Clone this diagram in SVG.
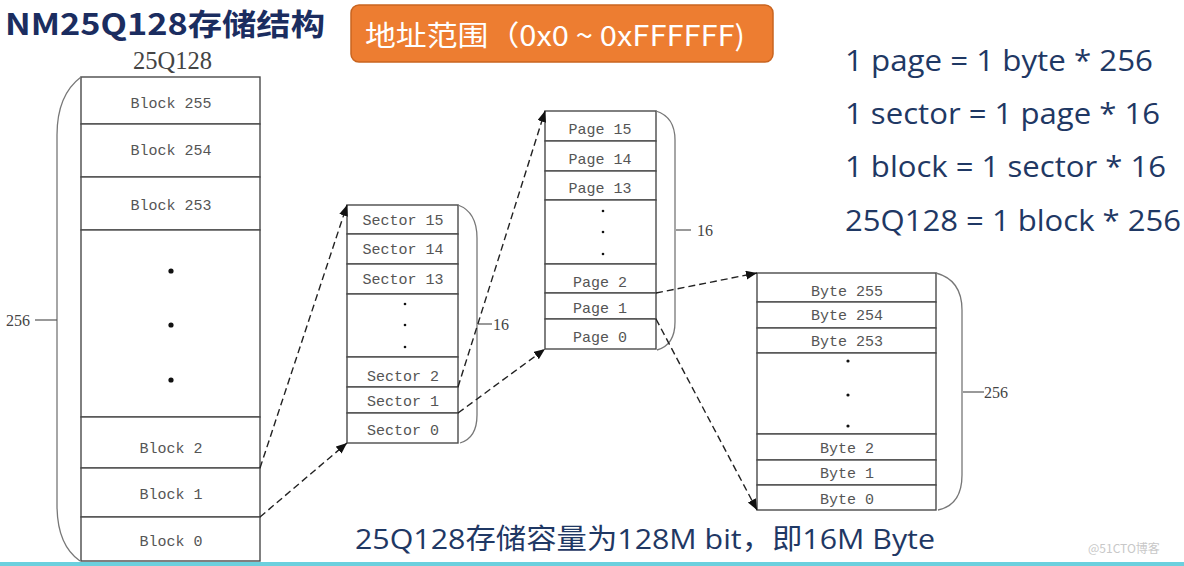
<svg xmlns="http://www.w3.org/2000/svg" width="1184" height="566" viewBox="0 0 1184 566">
<style>
.cell{fill:#fff;stroke:#4a4a4a;stroke-width:1.4}
.lbl{font-family:"Liberation Mono",monospace;font-size:15px;fill:#555;text-anchor:middle}
.num{font-family:"Liberation Serif",serif;font-size:16px;fill:#444}
.brace{fill:none;stroke:#777;stroke-width:1.3}
.tick{stroke:#555;stroke-width:1.2}
.dash{fill:none;stroke:#222;stroke-width:1.4;stroke-dasharray:7 4;marker-end:url(#ah)}
.navy{font-family:"Open Sans","Noto Sans CJK SC",sans-serif;fill:#1f3864}
.dot{fill:#111}
</style>
<defs>
<marker id="ah" markerUnits="userSpaceOnUse" markerWidth="12" markerHeight="10" refX="11" refY="4.5" orient="auto">
<path d="M0,0 L11,4.5 L0,9 z" fill="#111"/>
</marker>
</defs>
<rect width="1184" height="566" fill="#fff"/>
<rect x="0" y="562" width="1184" height="4" fill="#6cd0de"/>

<g id="title">
<text x="5" y="35" font-family="'Noto Sans CJK SC','Noto Sans',sans-serif" font-weight="bold" font-size="30" fill="#1b2d60" textLength="320" lengthAdjust="spacingAndGlyphs">NM25Q128存储结构</text>
</g>

<g id="address-range">
<rect x="351" y="5" width="422" height="57" rx="8" fill="#ed7d31" stroke="#c9641f" stroke-width="1.5"/>
<text x="365" y="46" font-family="'Noto Sans CJK SC',sans-serif" font-size="28" fill="#fff" textLength="380" lengthAdjust="spacingAndGlyphs">地址范围（0x0 ~ 0xFFFFFF)</text>
</g>

<g id="formulas">
<text class="navy" x="845" y="71" font-size="30" textLength="308" lengthAdjust="spacingAndGlyphs">1 page = 1 byte * 256</text>
<text class="navy" x="845" y="124" font-size="30" textLength="315" lengthAdjust="spacingAndGlyphs">1 sector = 1 page * 16</text>
<text class="navy" x="845" y="177" font-size="30" textLength="321" lengthAdjust="spacingAndGlyphs">1 block = 1 sector * 16</text>
<text class="navy" x="845" y="231" font-size="30" textLength="336" lengthAdjust="spacingAndGlyphs">25Q128 = 1 block * 256</text>
</g>

<g id="capacity">
<text class="navy" x="355" y="549" font-size="28" textLength="580" lengthAdjust="spacingAndGlyphs">25Q128存储容量为128M bit，即16M Byte</text>
</g>

<g id="watermark">
<text x="1088" y="553" font-family="'Noto Sans CJK SC',sans-serif" font-size="12" fill="#c8c8c8">@51CTO博客</text>
</g>

<g id="chip-25Q128">
<text x="133" y="69" font-family="'Liberation Serif',serif" font-size="25" fill="#444" textLength="79" lengthAdjust="spacingAndGlyphs">25Q128</text>
<rect class="cell" x="81" y="77" width="179" height="47"/>
<rect class="cell" x="81" y="124" width="179" height="53"/>
<rect class="cell" x="81" y="177" width="179" height="53"/>
<rect class="cell" x="81" y="230" width="179" height="187"/>
<rect class="cell" x="81" y="417" width="179" height="51"/>
<rect class="cell" x="81" y="468" width="179" height="49"/>
<rect class="cell" x="81" y="517" width="179" height="44"/>
<text class="lbl" x="171" y="108">Block 255</text>
<text class="lbl" x="171" y="155">Block 254</text>
<text class="lbl" x="171" y="210">Block 253</text>
<circle class="dot" cx="171" cy="271" r="2.6"/>
<circle class="dot" cx="171" cy="325" r="2.6"/>
<circle class="dot" cx="171" cy="380" r="2.6"/>
<text class="lbl" x="171" y="453">Block 2</text>
<text class="lbl" x="171" y="499">Block 1</text>
<text class="lbl" x="171" y="546">Block 0</text>
<path class="brace" d="M81 77 Q57 95 57 135 L57 505 Q57 545 80 561"/>
<line class="tick" x1="35" y1="320" x2="57" y2="320"/>
<text class="num" x="6" y="326">256</text>
</g>

<g id="block-sectors">
<rect class="cell" x="347" y="205" width="111" height="29"/>
<rect class="cell" x="347" y="234" width="111" height="30"/>
<rect class="cell" x="347" y="264" width="111" height="30"/>
<rect class="cell" x="347" y="294" width="111" height="63"/>
<rect class="cell" x="347" y="357" width="111" height="30"/>
<rect class="cell" x="347" y="387" width="111" height="26"/>
<rect class="cell" x="347" y="413" width="111" height="30"/>
<text class="lbl" x="403" y="225">Sector 15</text>
<text class="lbl" x="403" y="254">Sector 14</text>
<text class="lbl" x="403" y="284">Sector 13</text>
<circle class="dot" cx="405" cy="304" r="1.3"/>
<circle class="dot" cx="405" cy="325" r="1.3"/>
<circle class="dot" cx="405" cy="347" r="1.3"/>
<text class="lbl" x="403" y="381">Sector 2</text>
<text class="lbl" x="403" y="406">Sector 1</text>
<text class="lbl" x="403" y="435">Sector 0</text>
<path class="brace" d="M458 205 Q477 212 477 238 L477 415 Q477 438 460 443"/>
<line class="tick" x1="478" y1="324" x2="492" y2="324"/>
<text class="num" x="493" y="330">16</text>
</g>

<g id="sector-pages">
<rect class="cell" x="545" y="111" width="111" height="30"/>
<rect class="cell" x="545" y="141" width="111" height="30"/>
<rect class="cell" x="545" y="171" width="111" height="29"/>
<rect class="cell" x="545" y="200" width="111" height="64"/>
<rect class="cell" x="545" y="264" width="111" height="29"/>
<rect class="cell" x="545" y="293" width="111" height="26"/>
<rect class="cell" x="545" y="319" width="111" height="30"/>
<text class="lbl" x="600" y="134">Page 15</text>
<text class="lbl" x="600" y="164">Page 14</text>
<text class="lbl" x="600" y="193">Page 13</text>
<circle class="dot" cx="603" cy="211" r="1.3"/>
<circle class="dot" cx="603" cy="232" r="1.3"/>
<circle class="dot" cx="603" cy="254" r="1.3"/>
<text class="lbl" x="600" y="287">Page 2</text>
<text class="lbl" x="600" y="313">Page 1</text>
<text class="lbl" x="600" y="342">Page 0</text>
<path class="brace" d="M656 111 Q675 117 675 140 L675 322 Q675 345 657 350"/>
<line class="tick" x1="676" y1="230" x2="691" y2="230"/>
<text class="num" x="697" y="236">16</text>
</g>

<g id="page-bytes">
<rect class="cell" x="757" y="273" width="179" height="29"/>
<rect class="cell" x="757" y="302" width="179" height="26"/>
<rect class="cell" x="757" y="328" width="179" height="25"/>
<rect class="cell" x="757" y="353" width="179" height="81"/>
<rect class="cell" x="757" y="434" width="179" height="26"/>
<rect class="cell" x="757" y="460" width="179" height="25"/>
<rect class="cell" x="757" y="485" width="179" height="25"/>
<text class="lbl" x="847" y="296">Byte 255</text>
<text class="lbl" x="847" y="320">Byte 254</text>
<text class="lbl" x="847" y="346">Byte 253</text>
<circle class="dot" cx="848" cy="361" r="1.6"/>
<circle class="dot" cx="848" cy="395" r="1.6"/>
<circle class="dot" cx="848" cy="426" r="1.6"/>
<text class="lbl" x="847" y="453">Byte 2</text>
<text class="lbl" x="847" y="478">Byte 1</text>
<text class="lbl" x="847" y="504">Byte 0</text>
<path class="brace" d="M936 273 Q962 280 962 310 L962 475 Q962 505 938 510"/>
<line class="tick" x1="963" y1="392" x2="984" y2="392"/>
<text class="num" x="984" y="398">256</text>
</g>

<g id="connectors">
<path class="dash" d="M260 468 L347 205"/>
<path class="dash" d="M260 517 L347 443"/>
<path class="dash" d="M458 387 L545 111"/>
<path class="dash" d="M458 413 L545 349"/>
<path class="dash" d="M656 293 L757 273"/>
<path class="dash" d="M656 319 L757 510"/>
</g>
</svg>
